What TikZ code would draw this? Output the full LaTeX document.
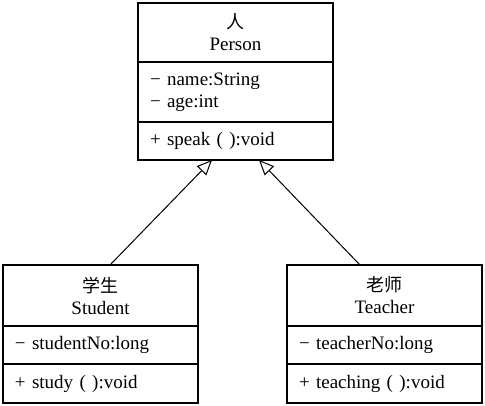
\documentclass[tikz,border=0pt]{standalone}
\usepackage{fontspec}
\setmainfont{Liberation Serif}
\newfontfamily\cjk{Noto Sans CJK SC}
\usetikzlibrary{arrows.meta,positioning}

\begin{document}
\begin{tikzpicture}[x=1pt,y=-1pt,node distance=0pt,
  every node/.style={font=\fontsize{19}{22}\selectfont},
  compart/.style={draw,line width=1.3pt,outer sep=0pt,inner xsep=12pt,inner ysep=0pt,text width=171pt},
  classhead/.style={compart,align=center},
  members/.style={compart,align=left},
  inherit/.style={-{Triangle[open,length=15pt,width=13pt]},line width=1pt}]
\useasboundingbox (0,0) rectangle (485,406);
% base class
\node[classhead,minimum height=59pt,anchor=north west] (person) at (138,3) {{\cjk\fontsize{18}{21}\selectfont 人}\\Person};
\node[members,minimum height=60pt,below=of person] (person-attr) {− name:String\\− age:int};
\node[members,minimum height=38pt,below=of person-attr] (person-op) {+ speak ( ):void};
% subclasses
\node[classhead,minimum height=61pt,anchor=north west] (student) at (3,265) {{\cjk\fontsize{18}{21}\selectfont 学生}\\Student};
\node[members,minimum height=38pt,below=of student] (student-attr) {− studentNo:long};
\node[members,minimum height=39pt,below=of student-attr] (student-op) {+ study ( ):void};
\node[classhead,minimum height=61pt,anchor=north west] (teacher) at (287,265) {{\cjk\fontsize{18}{21}\selectfont 老师}\\Teacher};
\node[members,minimum height=38pt,below=of teacher] (teacher-attr) {− teacherNo:long};
\node[members,minimum height=39pt,below=of teacher-attr] (teacher-op) {+ teaching ( ):void};
% generalisation
\draw[inherit] ([xshift=9.5pt]student.north) -- ([xshift=-23.5pt]person-op.south);
\draw[inherit] ([xshift=-24.5pt]teacher.north) -- ([xshift=23.5pt]person-op.south);
\end{tikzpicture}
\end{document}
